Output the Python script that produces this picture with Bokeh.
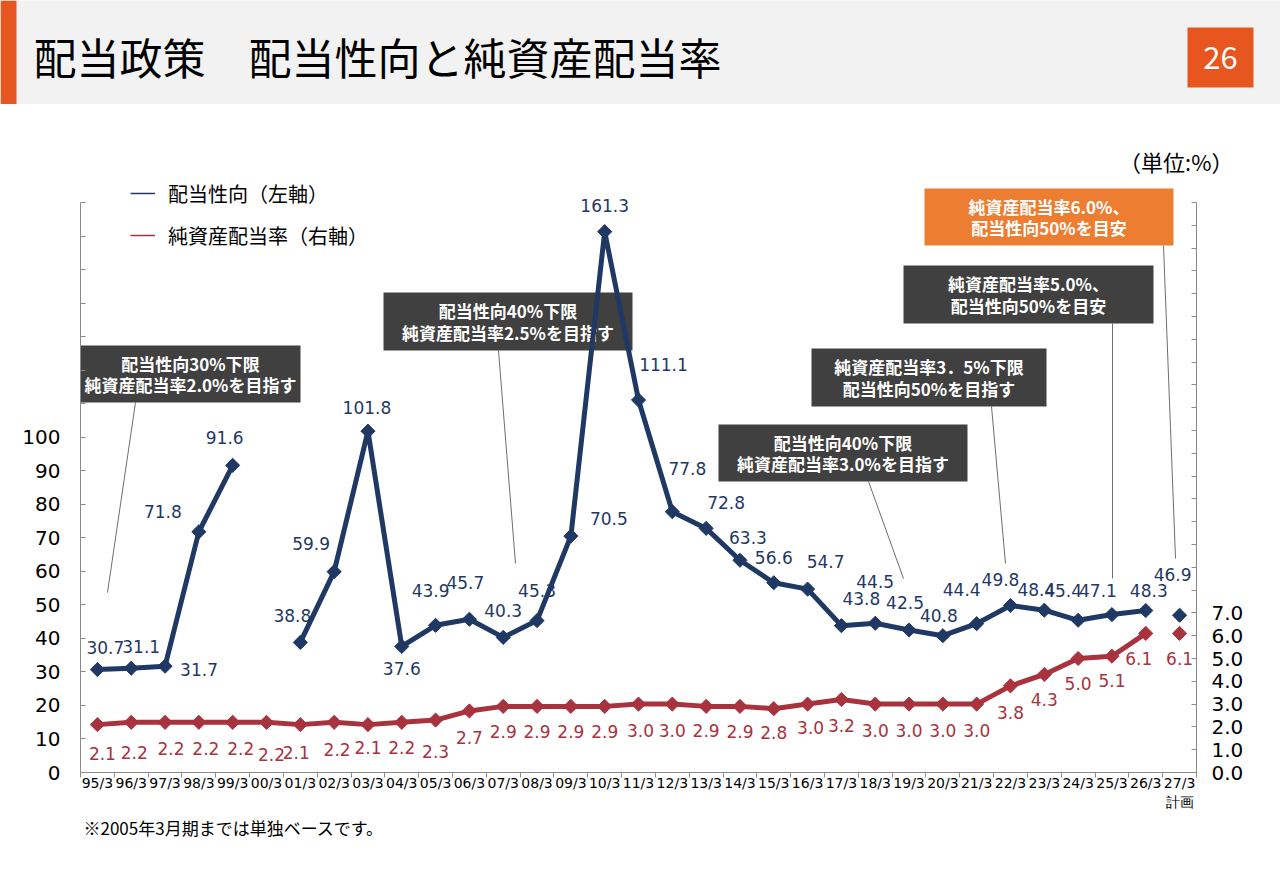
import math
from bokeh.plotting import figure
from bokeh.models import (Range1d, LinearAxis, FixedTicker, Legend, LegendItem,
                          Title, ColumnDataSource)
from bokeh.layouts import column
from bokeh.embed import file_html
from bokeh.resources import INLINE
from bokeh.core.properties import value

FONT = "Noto Sans CJK JP"
NUMFONT = "DejaVu Sans"
BLUE = "#1F3864"
RED = "#A8323E"
ORANGE = "#E8561F"
ORANGE_BOX = "#ED7D31"
DARK = "#404040"
AXIS_GRAY = "#8A8A8A"

# ---------------- data ----------------
periods = ["95/3", "96/3", "97/3", "98/3", "99/3", "00/3", "01/3", "02/3", "03/3",
           "04/3", "05/3", "06/3", "07/3", "08/3", "09/3", "10/3", "11/3", "12/3",
           "13/3", "14/3", "15/3", "16/3", "17/3", "18/3", "19/3", "20/3", "21/3",
           "22/3", "23/3", "24/3", "25/3", "26/3", "27/3\n計画"]
payout_ratio = [30.7, 31.1, 31.7, 71.8, 91.6, None, 38.8, 59.9, 101.8, 37.6, 43.9,
                45.7, 40.3, 45.3, 70.5, 161.3, 111.1, 77.8, 72.8, 63.3, 56.6, 54.7,
                43.8, 44.5, 42.5, 40.8, 44.4, 49.8, 48.4, 45.4, 47.1, 48.3, 46.9]
doe_ratio = [2.1, 2.2, 2.2, 2.2, 2.2, 2.2, 2.1, 2.2, 2.1, 2.2, 2.3, 2.7, 2.9, 2.9,
             2.9, 2.9, 3.0, 3.0, 2.9, 2.9, 2.8, 3.0, 3.2, 3.0, 3.0, 3.0, 3.0, 3.8,
             4.3, 5.0, 5.1, 6.1, 6.1]
is_plan = [False] * 32 + [True]
left_ticks = list(range(0, 171, 10))
left_labelled_max = 100
right_ticks = list(range(0, 26))
right_labelled_max = 7

# label placement (screen px offsets; layout only)
blue_dx = [8, 10, 34, -36, -8, 0, -8, -23, -1, 0, -5, -4, 0, 0, 38, 0, 25, 15, 20, 8,
           0, 18, 20, 0, -4, -4, -15, -10, -8, -15, -14, 3, -7]
blue_dy = [-22, -22, 3, -20, -28, 0, -27, -28, -24, 22, -35, -37, -27, -30, -18, -26,
           -35, -43, -26, -23, -25, -28, -27, -42, -28, -20, -34, -26, -21, -30, -24,
           -20, -41]
red_dx = [5, 3, 6, 7, 8, 5, -4, 3, 0, 0, 0, 0, 0, 0, 0, 0, 2, 0, 0, 0, 0, 3, 0, 0, 0,
          0, 0, 0, 0, 0, 0, -7, 0]
red_dy = [29, 30, 26, 26, 26, 32, 28, 27, 23, 25, 31, 27, 25, 25, 25, 25, 26, 26, 24,
          25, 24, 23, 26, 26, 26, 26, 26, 27, 25, 25, 24, 25, 25]

NAN = float("nan")
xs = list(range(len(periods)))

# ---------------- header ----------------
HW, HH = 1280, 104
h = figure(width=HW, height=HH, x_range=Range1d(0, HW), y_range=Range1d(HH, 0),
           toolbar_location=None, output_backend="svg", x_axis_type=None,
           y_axis_type=None, min_border=0)
h.grid.visible = False
h.outline_line_color = None
h.background_fill_color = "#F2F2F2"
h.border_fill_color = "#F2F2F2"
h.toolbar.logo = None
h.quad(left=[0], right=[16], top=[0], bottom=[HH], color=ORANGE, line_color=None)
h.quad(left=[1187], right=[1253], top=[27], bottom=[87], color=ORANGE, line_color=None)
h.text(x=[33], y=[55], text=["配当政策　配当性向と純資産配当率"], text_font=value(FONT),
       text_font_size="43px", text_color="#000000", text_baseline="middle",
       text_align="left")
h.text(x=[1220], y=[57], text=["26"], text_font=value(FONT), text_font_size="31px",
       text_color="#FFFFFF", text_baseline="middle", text_align="center")

# ---------------- main chart ----------------
W, H = 1280, 780
MB_L, MB_R, MB_T, MB_B = 80, 84, 74, 112
FRAME_H = H - MB_T - MB_B
PX_PER_LEFT = 570.0 / 170.0
PX_PER_RIGHT = 570.0 / 25.0
left_end = FRAME_H / PX_PER_LEFT
right_end = FRAME_H / PX_PER_RIGHT

p = figure(width=W, height=H, x_range=Range1d(-0.5, len(periods) - 0.5),
           y_range=Range1d(0, left_end), toolbar_location=None, output_backend="svg",
           min_border_left=MB_L, min_border_right=MB_R, min_border_top=MB_T,
           min_border_bottom=MB_B, title="（単位:%）")
p.toolbar.logo = None
p.grid.visible = False
p.outline_line_color = None
p.extra_y_ranges = {"doe": Range1d(0, right_end)}
for fig in (h, p):
    try:
        fig.frame_align = False
    except Exception:
        pass

p.title.align = "right"
p.title.offset = -37
p.title.standoff = 4
p.title.text_font = FONT
p.title.text_font_size = "22px"
p.title.text_font_style = "normal"
p.title.text_color = "#000000"

# page-pixel helpers for callouts (frame: x 80..1196, y bottom 772)
FR_L, FR_R, FR_B = 80.0, 1196.0, 772.0
STEP = (FR_R - FR_L) / len(periods)


def px2x(px):
    return (px - FR_L) / STEP - 0.5


def px2y(py):
    return (FR_B - py) / PX_PER_LEFT


# x axis
xa = p.xaxis[0]
xa.ticker = FixedTicker(ticks=xs, minor_ticks=[i - 0.5 for i in range(len(periods) + 1)])
xa.major_label_overrides = {i: lab for i, lab in enumerate(periods)}
xa.major_tick_line_color = None
xa.major_tick_out = 0
xa.major_tick_in = 0
xa.minor_tick_line_color = AXIS_GRAY
xa.minor_tick_out = 5
xa.minor_tick_in = 0
xa.axis_line_color = AXIS_GRAY
xa.major_label_standoff = -3
xa.major_label_text_font = NUMFONT
xa.major_label_text_font_size = "14px"
xa.major_label_text_color = "#000000"

# left axis
ya = p.yaxis[0]
ya.ticker = FixedTicker(ticks=left_ticks)
ya.major_label_overrides = {t: ("" if t > left_labelled_max else str(t)) for t in left_ticks}
ya.bounds = (0, left_ticks[-1])
ya.axis_line_color = AXIS_GRAY
ya.major_tick_line_color = AXIS_GRAY
ya.major_tick_in = 5
ya.major_tick_out = 0
ya.minor_tick_line_color = None
ya.major_label_standoff = 20
ya.major_label_text_font = NUMFONT
ya.major_label_text_font_size = "20px"
ya.major_label_text_color = "#000000"

# right axis
ra = LinearAxis(y_range_name="doe", ticker=FixedTicker(ticks=right_ticks),
                bounds=(0, right_ticks[-1]))
ra.major_label_overrides = {t: (f"{t:.1f}" if t <= right_labelled_max else "") for t in right_ticks}
ra.axis_line_color = AXIS_GRAY
ra.major_tick_line_color = AXIS_GRAY
ra.major_tick_in = 5
ra.major_tick_out = 0
ra.minor_tick_line_color = None
ra.major_label_standoff = 15
ra.major_label_text_font = NUMFONT
ra.major_label_text_font_size = "20px"
ra.major_label_text_color = "#000000"
p.add_layout(ra, "right")

# callout boxes (layout in page pixels)
callouts = [
    (80, 300, 345, 402, DARK, "配当性向30%下限\n純資産配当率2.0%を目指す", (135, 402, 107, 592)),
    (383, 632, 292, 350, DARK, "配当性向40%下限\n純資産配当率2.5%を目指す", (498, 350, 515, 563)),
    (811, 1046, 348, 406, DARK, "純資産配当率3．5%下限\n配当性向50%を目指す", (991, 406, 1005, 563)),
    (718, 967, 424, 481, DARK, "配当性向40%下限\n純資産配当率3.0%を目指す", (868, 481, 903, 578)),
    (903, 1153, 265, 323, DARK, "純資産配当率5.0%、\n配当性向50%を目安", (1112, 323, 1112, 578)),
    (924, 1173, 188, 245, ORANGE_BOX, "純資産配当率6.0%、\n配当性向50%を目安", (1163, 245, 1175, 558)),
]
for (l, r, t, b, col, txt, (x0, y0, x1, y1)) in callouts:
    p.segment(x0=[px2x(x0)], y0=[px2y(y0)], x1=[px2x(x1)], y1=[px2y(y1)],
              line_color="#6E6E6E", line_width=1)
    p.quad(left=[px2x(l)], right=[px2x(r)], top=[px2y(t)], bottom=[px2y(b)],
           fill_color=col, line_color=None)
    p.text(x=[px2x((l + r) / 2)], y=[px2y((t + b) / 2)], text=[txt],
           text_font=value(FONT), text_font_size="17px", text_font_style="bold",
           text_color="#FFFFFF", text_align="center", text_baseline="middle",
           text_line_height=0.85)

# series lines (plan year not connected)
blue_line = [NAN if (v is None or pl) else v for v, pl in zip(payout_ratio, is_plan)]
red_line = [NAN if pl else v for v, pl in zip(doe_ratio, is_plan)]
p.line(xs, blue_line, line_color=BLUE, line_width=5, line_join="round")
p.line(xs, red_line, line_color=RED, line_width=5, line_join="round", y_range_name="doe")

bx = [x for x, v in zip(xs, payout_ratio) if v is not None]
bv = [v for v in payout_ratio if v is not None]
p.scatter(bx, bv, marker="square", size=10, angle=math.pi / 4, color=BLUE)
p.scatter(xs, doe_ratio, marker="square", size=10, angle=math.pi / 4, color=RED,
          y_range_name="doe")

# data labels
bsrc = ColumnDataSource(dict(
    x=bx, y=bv, t=[f"{v:.1f}" for v in bv],
    dx=[d for d, v in zip(blue_dx, payout_ratio) if v is not None],
    dy=[d for d, v in zip(blue_dy, payout_ratio) if v is not None]))
p.text(x="x", y="y", text="t", x_offset="dx", y_offset="dy", source=bsrc,
       text_font=value(NUMFONT), text_font_size="17px", text_color=BLUE,
       text_align="center", text_baseline="middle")
rsrc = ColumnDataSource(dict(x=xs, y=doe_ratio, t=[f"{v:.1f}" for v in doe_ratio],
                             dx=red_dx, dy=red_dy))
p.text(x="x", y="y", text="t", x_offset="dx", y_offset="dy", source=rsrc,
       y_range_name="doe", text_font=value(NUMFONT), text_font_size="17px",
       text_color=RED, text_align="center", text_baseline="middle")

# legend (thin sample lines)
lg1 = p.line([NAN], [NAN], line_color=BLUE, line_width=1.5)
lg2 = p.line([NAN], [NAN], line_color=RED, line_width=1.5)
legend = Legend(items=[LegendItem(label="配当性向（左軸）", renderers=[lg1]),
                       LegendItem(label="純資産配当率（右軸）", renderers=[lg2])],
                location=(50, FRAME_H - 72), border_line_color=None,
                background_fill_alpha=0, label_text_font=FONT,
                label_text_font_size="20px", label_text_color="#000000",
                glyph_width=25, glyph_height=30, label_height=30, spacing=12,
                padding=0, margin=0, label_standoff=13)
p.add_layout(legend)

# footnote
p.add_layout(Title(text="※2005年3月期までは単独ベースです。", align="left", offset=3,
                   standoff=0, text_font=FONT, text_font_size="17px",
                   text_font_style="normal", text_color="#000000"), "below")

layout = column(h, p, spacing=0)
open("out.html", "w").write(file_html(layout, INLINE))
